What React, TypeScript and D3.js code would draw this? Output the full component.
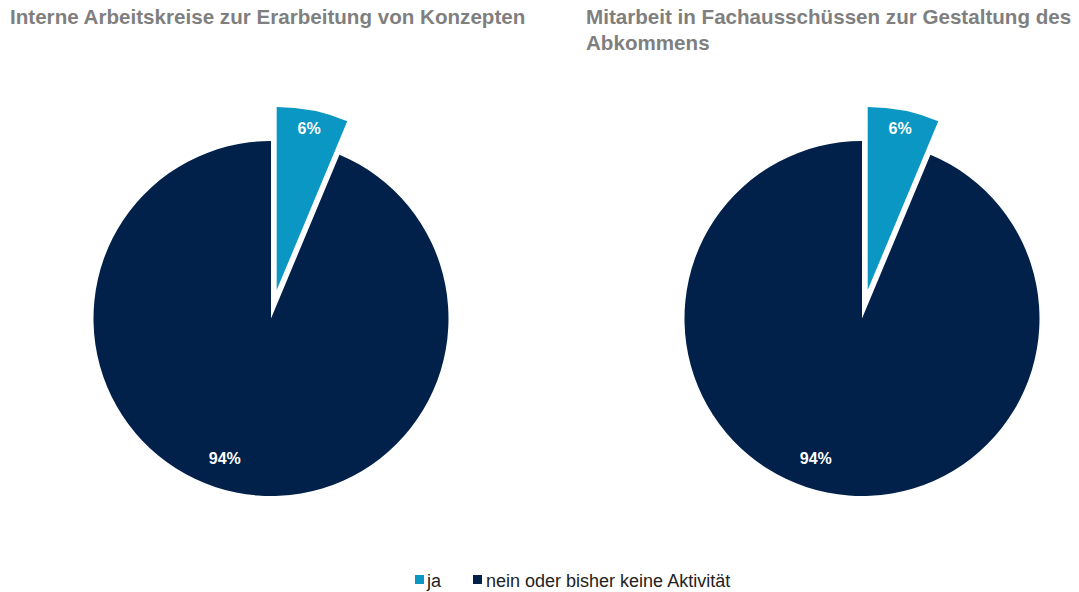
import React from "react";
import * as d3 from "d3";

const categories = ["ja", "nein oder bisher keine Aktivität"];
const chartTitles = [
  ["Interne Arbeitskreise zur Erarbeitung von Konzepten"],
  ["Mitarbeit in Fachausschüssen zur Gestaltung des", "Abkommens"],
];
const valuesLeft = [6.3, 93.7];
const valuesRight = [6.3, 93.7];
const seriesValues = [valuesLeft, valuesRight];
const colors = ["#0b97c3", "#01214a"];

const W = 1079;
const H = 592;

function Pie({ values, cx, cy, r }: { values: number[]; cx: number; cy: number; r: number }) {
  const pie = d3.pie<number>().value((d) => d).sort(null);
  const arcs = pie(values);
  const explode = 29;
  const radii = [r + 5.5, r];
  return (
    <g transform={`translate(${cx},${cy})`}>
      {arcs.map((a, i) => {
        const mid = (a.startAngle + a.endAngle) / 2;
        const off = i === 0 ? explode : 0;
        const dx = Math.sin(mid) * off;
        const dy = -Math.cos(mid) * off;
        const arc = d3.arc<d3.PieArcDatum<number>>().innerRadius(0).outerRadius(radii[i]);
        return (
          <g key={i} transform={`translate(${dx},${dy})`}>
            <path d={arc(a) || ""} fill={colors[i]} />
          </g>
        );
      })}
      {arcs.map((a, i) => {
        let ang = (a.startAngle + a.endAngle) / 2;
        let rr: number;
        if (i === 0) {
          rr = r + 16.5;
        } else {
          ang += (7 * Math.PI) / 180;
          rr = r * 0.828;
        }
        const lx = Math.sin(ang) * rr;
        const ly = -Math.cos(ang) * rr;
        return (
          <text
            key={"l" + i}
            x={lx}
            y={ly}
            textAnchor="middle"
            dominantBaseline="central"
            fill="#fff"
            fontWeight="bold"
            fontSize={16}
            fontFamily="'Liberation Sans', Arial, sans-serif"
          >
            {Math.round(a.data)}%
          </text>
        );
      })}
    </g>
  );
}

export default function App() {
  const centers = [
    { cx: 271, cy: 318.5 },
    { cx: 862, cy: 318.5 },
  ];
  const titleX = [10, 586];
  return (
    <svg
      width={W}
      height={H}
      style={{ position: "absolute", left: 0, top: 0, background: "#fff" }}
      fontFamily="'Liberation Sans', Arial, sans-serif"
    >
      {chartTitles.map((lines, k) => (
        <text key={k} x={titleX[k]} y={24} fill="#7f7f7f" fontWeight="bold" fontSize={20.6}>
          {lines.map((ln, j) => (
            <tspan key={j} x={titleX[k]} dy={j === 0 ? 0 : 26}>
              {ln}
            </tspan>
          ))}
        </text>
      ))}
      {seriesValues.map((vals, k) => (
        <Pie key={k} values={vals} cx={centers[k].cx} cy={centers[k].cy} r={177.5} />
      ))}
      <g>
        <rect x={415} y={575} width={9} height={9} fill={colors[0]} />
        <text x={427} y={587} fontSize={18} fill="#222">
          {categories[0]}
        </text>
        <rect x={473} y={575} width={9} height={9} fill={colors[1]} />
        <text x={486} y={587} fontSize={18} fill="#222">
          {categories[1]}
        </text>
      </g>
    </svg>
  );
}
